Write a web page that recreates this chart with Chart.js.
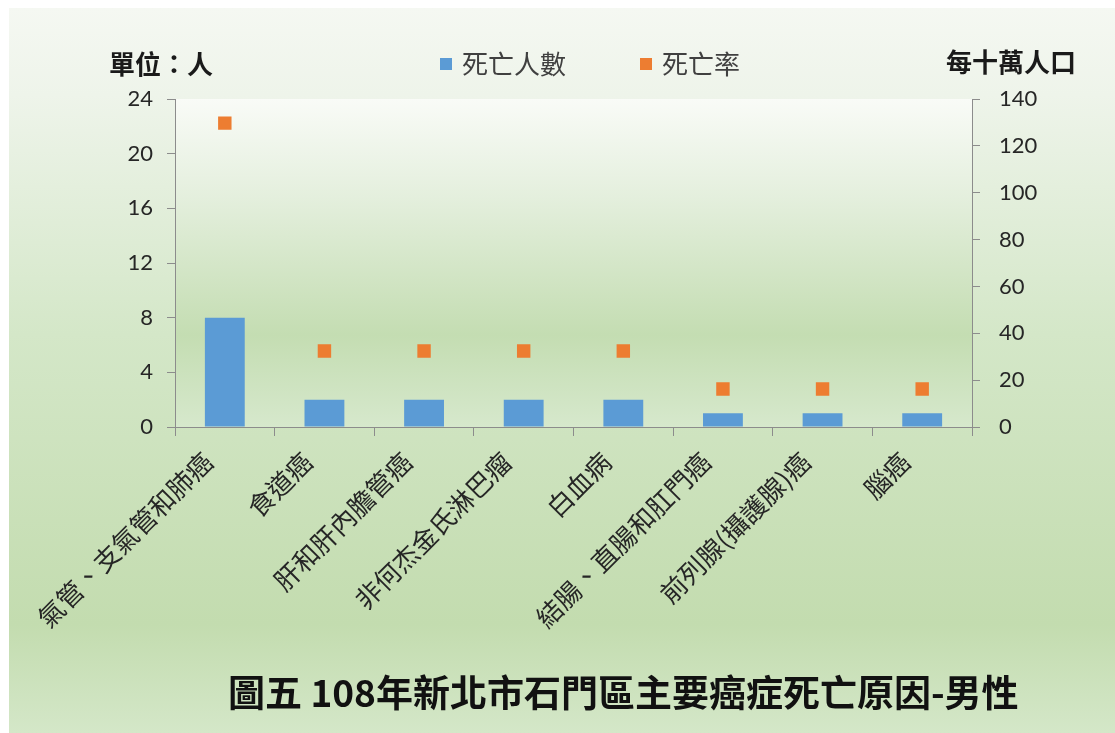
<!DOCTYPE html>
<html><head><meta charset="utf-8">
<script src="https://cdn.jsdelivr.net/npm/chart.js@4/dist/chart.umd.min.js"></script>
<style>html,body{margin:0;padding:0;background:#fff;overflow:hidden}</style>
</head><body>
<canvas id="c" width="1115" height="733"></canvas>
<script>
const categories = ['氣管、支氣管和肺癌','食道癌','肝和肝內膽管癌','非何杰金氏淋巴瘤','白血病','結腸、直腸和肛門癌','前列腺(攝護腺)癌','腦癌'];
const deaths = [8, 2, 2, 2, 2, 1, 1, 1];
const rates = [129.7, 32.4, 32.4, 32.4, 32.4, 16.2, 16.2, 16.2];
const leftTicks = [0, 4, 8, 12, 16, 20, 24];
const rightTicks = [0, 20, 40, 60, 80, 100, 120, 140];
const seriesNames = ['死亡人數', '死亡率'];
const leftUnit = '單位：人';
const rightUnit = '每十萬人口';
const chartTitle = '圖五 108年新北市石門區主要癌症死亡原因-男性';

const CJK = '"Noto Sans CJK TC", "Noto Sans CJK SC", sans-serif';
const NUM = 'Lato, "Open Sans", sans-serif';

const bgPlugin = {
  id: 'bgPlugin',
  beforeDraw(chart) {
    const ctx = chart.ctx, W = chart.width, H = chart.height;
    ctx.save();
    ctx.fillStyle = '#ffffff';
    ctx.fillRect(0, 0, W, H);
    const g = ctx.createLinearGradient(0, 8, 0, H);
    g.addColorStop(0, '#f5f8f2');
    g.addColorStop(0.12, '#eef4ea');
    g.addColorStop(0.45, '#d4e7c8');
    g.addColorStop(0.85, '#c3dcaf');
    g.addColorStop(1, '#d4e7c8');
    ctx.fillStyle = g;
    ctx.fillRect(9, 8, W - 9, H - 8);
    const a = chart.chartArea;
    const g2 = ctx.createLinearGradient(0, a.top, 0, a.bottom);
    g2.addColorStop(0, '#f9fbf7');
    g2.addColorStop(0.3, '#e4efdd');
    g2.addColorStop(0.72, '#c4ddb2');
    g2.addColorStop(1, '#d6e8cc');
    ctx.fillStyle = g2;
    ctx.fillRect(a.left, a.top, a.right - a.left, a.bottom - a.top);
    ctx.restore();
  },
  afterDraw(chart) {
    const ctx = chart.ctx;
    ctx.save();
    ctx.textBaseline = 'middle';
    ctx.fillStyle = '#1a1a1a';
    ctx.font = 'bold 26px ' + CJK;
    ctx.textAlign = 'left';
    ctx.fillText(leftUnit, 109, 64);
    ctx.fillText(rightUnit, 946, 62);
    // legend, in series-name order
    const legendX = [440, 640];
    ctx.font = '26px ' + CJK;
    seriesNames.forEach((name, i) => {
      const d = chart.data.datasets.find(ds => ds.label === name);
      ctx.fillStyle = d.backgroundColor;
      ctx.fillRect(legendX[i], 58, 12, 12);
      ctx.fillStyle = '#404040';
      ctx.fillText(name, legendX[i] + 22, 64);
    });
    // bottom title
    ctx.fillStyle = '#111111';
    ctx.font = 'bold 37px ' + CJK;
    ctx.fillText(chartTitle, 228, 693);
    ctx.restore();
  }
};

new Chart(document.getElementById('c'), {
  data: {
    labels: categories,
    datasets: [
      {
        type: 'line', label: seriesNames[1], data: rates, yAxisID: 'y1',
        showLine: false, pointStyle: 'rect', pointRadius: 9.5, pointHoverRadius: 9.5,
        backgroundColor: '#ed7d31', borderColor: '#ed7d31', borderWidth: 0, order: 0
      },
      {
        type: 'bar', label: seriesNames[0], data: deaths, yAxisID: 'y',
        backgroundColor: '#5b9bd5', barPercentage: 0.4, categoryPercentage: 1, order: 1
      }
    ]
  },
  options: {
    responsive: false,
    animation: false,
    devicePixelRatio: 1,
    layout: { padding: { left: 0, right: 0, top: 99, bottom: 0 } },
    plugins: { legend: { display: false }, tooltip: { enabled: false }, title: { display: false } },
    scales: {
      x: {
        type: 'category',
        grid: { display: true, drawOnChartArea: false, offset: true, tickLength: 9, color: '#8c8c8c' },
        border: { display: true, color: '#8c8c8c', width: 1 },
        ticks: { maxRotation: 45, minRotation: 45, autoSkip: false, padding: 10, labelOffset: -17, color: '#262626', font: { family: CJK, size: 26 } },
        afterFit(s) { s.height = 733 - 427; }
      },
      y: {
        position: 'left', min: 0, max: 24,
        afterBuildTicks(s) { s.ticks = leftTicks.map(v => ({ value: v })); },
        grid: { display: true, drawOnChartArea: false, tickLength: 8, color: '#8c8c8c' },
        border: { display: true, color: '#8c8c8c', width: 1 },
        ticks: { padding: 14, color: '#262626', font: { family: NUM, size: 22 } },
        afterFit(s) { s.width = 175; }
      },
      y1: {
        position: 'right', min: 0, max: 140,
        afterBuildTicks(s) { s.ticks = rightTicks.map(v => ({ value: v })); },
        grid: { display: true, drawOnChartArea: false, tickLength: 8, color: '#8c8c8c' },
        border: { display: true, color: '#8c8c8c', width: 1 },
        ticks: { padding: 19, color: '#262626', font: { family: NUM, size: 22 } },
        afterFit(s) { s.width = 1115 - 972; }
      }
    }
  },
  plugins: [bgPlugin]
});
</script>
</body></html>
